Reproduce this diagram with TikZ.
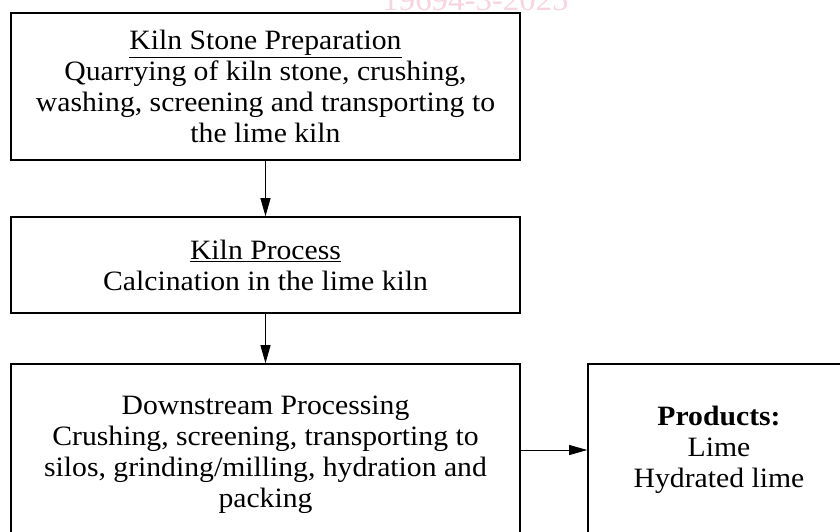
\documentclass[tikz,border=0pt]{standalone}
\usepackage{fontspec}
\setmainfont{Liberation Serif}[FakeStretch=1.06]
\usepackage{xcolor}
\usetikzlibrary{arrows.meta, positioning}
\definecolor{stamp}{RGB}{248,212,224}
\tikzset{
    box/.style={draw, line width=1.6pt, align=center, inner sep=0pt}, % outlined step boxes
    boxtext/.style={align=center, inner sep=0pt, font=\fontsize{28}{31}\selectfont},
    arrow/.style={line width=0.9pt, -{Triangle[length=18pt,width=10pt]}},
}

\begin{document}
\begin{tikzpicture}[x=1pt, y=-1pt]
    \useasboundingbox (0,0) rectangle (840,531);
    \clip (0,0) rectangle (840,531);

    % Stamp
    \node[anchor=base, text=stamp, inner sep=0pt, font=\fontsize{31}{31}\selectfont] (stamp) at (475.5,10) {19694-3-2025};

    % Boxes
    \node[box, boxtext, minimum width=509pt, minimum height=147pt] (prep) at (265.5,86.5)
        {\underline{Kiln Stone Preparation}\\
         Quarrying of kiln stone, crushing,\\
         washing, screening and transporting to\\
         the lime kiln};
    \node[box, boxtext, minimum width=509pt, minimum height=96pt] (kiln) at (265.5,265)
        {\underline{Kiln Process}\\
         Calcination in the lime kiln};
    \node[box, minimum width=509pt, minimum height=216pt] (down) at (265.5,472) {};
    \node[boxtext] (downtext) at (265.5,455)
        {Downstream Processing\\
         Crushing, screening, transporting to\\
         silos, grinding/milling, hydration and\\
         packing};
    \node[box, minimum width=272pt, minimum height=216pt] (prod) at (724,472) {};
    \node[boxtext] (prodtext) at (719,450)
        {\textbf{Products:}\\
         Lime\\
         Hydrated lime};

    % Arrows
    \coordinate (flow) at (0,450);
    \draw[arrow] (prep) -- (kiln);
    \draw[arrow] (kiln) -- (down);
    \draw[arrow] (down.east |- flow) -- (prod.west |- flow);
\end{tikzpicture}
\end{document}
